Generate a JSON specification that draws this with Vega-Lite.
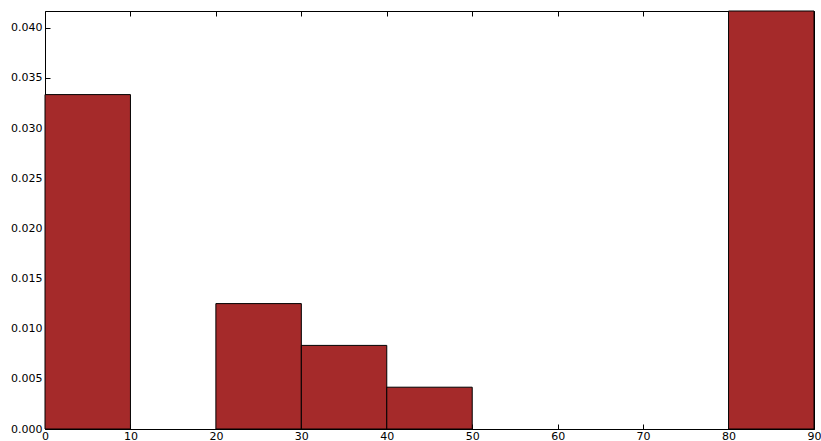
{
  "$schema": "https://vega.github.io/schema/vega-lite/v6.json",
  "width": 769,
  "height": 418,
  "padding": {"left": 45, "top": 11, "right": 7, "bottom": 12},
  "autosize": {"type": "none"},
  "background": "white",
  "config": {
    "view": {"stroke": "black", "strokeWidth": 1},
    "axis": {
      "labelFont": "DejaVu Sans",
      "labelFontSize": 11,
      "labelColor": "black",
      "domain": false,
      "grid": false,
      "tickColor": "black",
      "tickSize": -5,
      "tickWidth": 1,
      "title": null
    }
  },
  "data": {
    "values": [
      {"bin_start": 0, "bin_end": 10, "density": 0.033333},
      {"bin_start": 20, "bin_end": 30, "density": 0.0125},
      {"bin_start": 30, "bin_end": 40, "density": 0.008333},
      {"bin_start": 40, "bin_end": 50, "density": 0.004167},
      {"bin_start": 80, "bin_end": 90, "density": 0.041667}
    ]
  },
  "layer": [
    {
      "mark": {"type": "bar", "fill": "#a52a2a", "stroke": "black", "strokeWidth": 1},
      "encoding": {
        "x": {"field": "bin_start", "type": "quantitative", "scale": {"domain": [0, 90], "nice": false, "zero": false},
              "axis": {"orient": "bottom", "values": [0,10,20,30,40,50,60,70,80,90], "labelPadding": 6, "labelFlush": false}},
        "x2": {"field": "bin_end"},
        "y": {"field": "density", "type": "quantitative", "scale": {"domain": [0, 0.041667], "nice": false},
              "axis": {"orient": "left", "values": [0,0.005,0.01,0.015,0.02,0.025,0.03,0.035,0.04], "format": ".3f", "labelPadding": 8, "labelFlush": false}},
        "y2": {"datum": 0}
      }
    },
    {
      "mark": {"type": "rule", "opacity": 0},
      "encoding": {
        "x": {"field": "bin_start", "type": "quantitative", "scale": {"domain": [0, 90], "nice": false, "zero": false},
              "axis": {"orient": "top", "values": [0,10,20,30,40,50,60,70,80,90], "labels": false}},
        "y": {"field": "density", "type": "quantitative", "scale": {"domain": [0, 0.041667], "nice": false},
              "axis": {"orient": "right", "values": [0,0.005,0.01,0.015,0.02,0.025,0.03,0.035,0.04], "labels": false}}
      }
    }
  ],
  "resolve": {"scale": {"x": "independent", "y": "independent"}, "axis": {"x": "independent", "y": "independent"}}
}
